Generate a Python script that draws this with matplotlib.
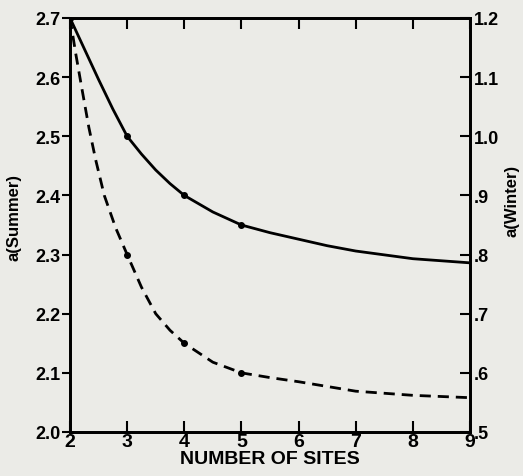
import numpy as np
import matplotlib
matplotlib.use("Agg")
import matplotlib.pyplot as plt

# values
summer_x = [2, 2.25, 2.5, 2.75, 3, 3.25, 3.5, 3.75, 4, 4.5, 5, 5.5, 6, 6.5, 7, 8, 9]
summer_y = [2.7, 2.648, 2.596, 2.546, 2.5, 2.47, 2.443, 2.42, 2.4, 2.372, 2.35, 2.337, 2.326, 2.315, 2.306, 2.293, 2.286]
winter_x = [2, 2.1, 2.2, 2.33, 2.45, 2.6, 2.8, 3, 3.25, 3.5, 3.75, 4, 4.5, 5, 5.5, 6, 7, 8, 9]
winter_y = [1.2, 1.14, 1.085, 1.015, 0.96, 0.9, 0.845, 0.8, 0.745, 0.70, 0.672, 0.65, 0.618, 0.6, 0.592, 0.585, 0.569, 0.562, 0.558]
pts_x = [2, 3, 4, 5]
summer_pts = [2.7, 2.5, 2.4, 2.35]
winter_pts = [1.2, 0.8, 0.65, 0.6]

left_ticks = [2.0, 2.1, 2.2, 2.3, 2.4, 2.5, 2.6, 2.7]
left_labels = ["2.0", "2.1", "2.2", "2.3", "2.4", "2.5", "2.6", "2.7"]
right_ticks = [0.5, 0.6, 0.7, 0.8, 0.9, 1.0, 1.1, 1.2]
right_labels = [".5", ".6", ".7", ".8", ".9", "1.0", "1.1", "1.2"]

plt.rcParams['font.family'] = ['Liberation Sans', 'DejaVu Sans']
bg = '#ebebe7'

fig = plt.figure(figsize=(5.23, 4.77), dpi=100, facecolor=bg)
ax = fig.add_axes([70/523, 1 - 433/477, 400/523, 414/477])
ax.set_facecolor(bg)
ax2 = ax.twinx()

ax.plot(summer_x, summer_y, color='black', lw=2, solid_joinstyle='round')
ax.plot(pts_x, summer_pts, 'o', color='black', ms=4)
ax2.plot(winter_x, winter_y, color='black', lw=2, linestyle=(0, (4, 2.5)))
ax2.plot(pts_x, winter_pts, 'o', color='black', ms=4)

ax.set_xlim(2, 9)
ax.set_ylim(2.0, 2.7)
ax2.set_ylim(0.5, 1.2)

ax.set_xticks(range(2, 10))
ax.tick_params(axis='x', direction='in', length=8, width=1.5, top=True,
               labelsize=14, pad=1)
ax.set_yticks(left_ticks)
ax.set_yticklabels(left_labels)
ax.tick_params(axis='y', direction='out', length=6, width=1.5, labelsize=13, pad=1)
ax2.set_yticks(right_ticks)
ax2.set_yticklabels(right_labels)
ax2.tick_params(axis='y', direction='in', length=7, width=1.5, labelsize=13, pad=3)

for lab in ax.get_xticklabels() + ax.get_yticklabels() + ax2.get_yticklabels():
    lab.set_fontweight('bold')

for a in (ax, ax2):
    for s in a.spines.values():
        s.set_linewidth(2)

ax.set_xlabel("NUMBER OF SITES", fontsize=14, fontweight='bold', labelpad=0)
ax.set_ylabel("a(Summer)", fontsize=12, fontweight='bold')
ax.yaxis.set_label_coords(-0.12, 0.52)
ax2.set_ylabel("a(Winter)", fontsize=12, fontweight='bold', rotation=90)
ax2.yaxis.set_label_coords(1.087, 0.56)

fig.savefig("out.png", dpi=100, facecolor=bg)
